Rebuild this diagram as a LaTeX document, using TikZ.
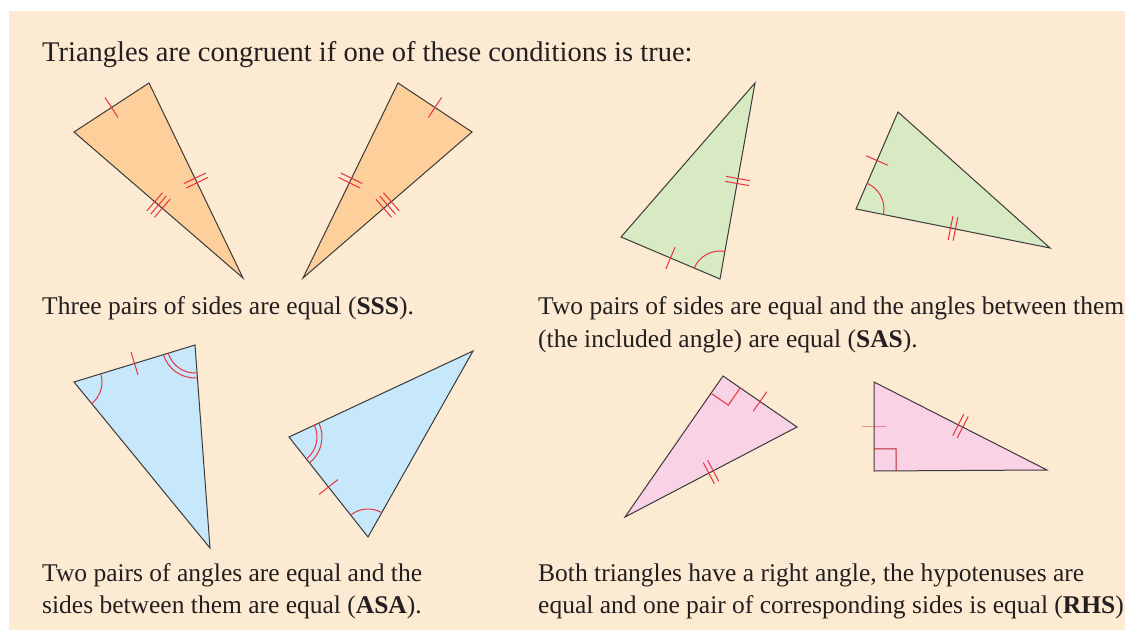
\documentclass[tikz,border=0pt]{standalone}
\usepackage{fontspec}
\setmainfont{Liberation Serif}
\usetikzlibrary{calc,angles,decorations.markings}
\definecolor{pagec}{HTML}{FDEAD3}
\definecolor{orangec}{HTML}{FDD09B}
\definecolor{greenc}{HTML}{D8EAC3}
\definecolor{bluec}{HTML}{C6E8FA}
\definecolor{pinkc}{HTML}{F9D2E5}
\definecolor{markc}{HTML}{E8323C}
\definecolor{edgec}{HTML}{3A3A3A}
\definecolor{textc}{HTML}{231F20}
\tikzset{
  tri/.style={draw=edgec, line width=1pt, line join=miter},
  sss/.style={tri, fill=orangec},
  sas/.style={tri, fill=greenc},
  asa/.style={tri, fill=bluec},
  rhs/.style={tri, fill=pinkc},
  markln/.style={draw=markc, line width=1pt},
  tickone/.style={postaction={decorate, decoration={markings, mark=at position 0.5 with
      {\draw[markln] (0,-12pt) -- (0,12pt);}}}},
  ticktwo/.style={postaction={decorate, decoration={markings, mark=at position 0.5 with
      {\draw[markln] (-2.5pt,-12pt) -- (-2.5pt,12pt) (2.5pt,-12pt) -- (2.5pt,12pt);}}}},
  tickthree/.style={postaction={decorate, decoration={markings, mark=at position 0.5 with
      {\draw[markln] (-5pt,-12pt) -- (-5pt,12pt) (0,-12pt) -- (0,12pt) (5pt,-12pt) -- (5pt,12pt);}}}},
  arcone/.style={markln, angle radius=28pt},
  arcouter/.style={markln, angle radius=33pt},
  captxt/.style={font=\fontsize{25.5}{32}\selectfont, text=textc, anchor=base west, inner sep=0pt},
  headtxt/.style={captxt, font=\fontsize{28.5}{34}\selectfont},
}

\begin{document}
\begin{tikzpicture}[x=1pt, y=-1pt]
  \clip (0,0) rectangle (1125,639);
  \fill[white] (0,0) rectangle (1125,639);
  \fill[pagec] (9,11) rectangle (1125,630);

  \node[headtxt] (title) at (42,62) {Triangles are congruent if one of these conditions is true:};

  % SSS
  \coordinate (oa) at (74,132);  \coordinate (ob) at (149,83);  \coordinate (oc) at (243,278);
  \coordinate (od) at (398,83);  \coordinate (oe) at (472,132); \coordinate (of) at (303,278);
  \draw[sss] (oa) -- (ob) -- (oc) -- cycle;
  \draw[sss] (od) -- (oe) -- (of) -- cycle;
  \path[tickone] (oa) -- (ob);  \path[ticktwo] (ob) -- (oc);  \path[tickthree] (oa) -- (oc);
  \path[tickone] (od) -- (oe);  \path[ticktwo] (od) -- (of);  \path[tickthree] (oe) -- (of);
  \node[captxt] (ssstext) at (42,315) {Three pairs of sides are equal (\textbf{SSS}).};

  % SAS
  \coordinate (ga) at (621,237); \coordinate (gb) at (755,83);  \coordinate (gc) at (720,279);
  \coordinate (gd) at (856,209); \coordinate (ge) at (898,112); \coordinate (gf) at (1050,248);
  \draw[sas] (ga) -- (gb) -- (gc) -- cycle;
  \draw[sas] (gd) -- (ge) -- (gf) -- cycle;
  \path[tickone] (ga) -- (gc);  \path[ticktwo] (gb) -- (gc);
  \path[tickone] (gd) -- (ge);  \path[ticktwo] (gd) -- (gf);
  \pic[arcone] {angle = gb--gc--ga};
  \pic[arcone] {angle = gf--gd--ge};
  \node[captxt] (sastexta) at (538,315) {Two pairs of sides are equal and the angles between them};
  \node[captxt] (sastextb) at (538,347) {(the included angle) are equal (\textbf{SAS}).};

  % ASA
  \coordinate (ba) at (74,382);  \coordinate (bb) at (195,345); \coordinate (bc) at (210,548);
  \coordinate (bd) at (289,437); \coordinate (be) at (473,351); \coordinate (bf) at (368,537);
  \draw[asa] (ba) -- (bb) -- (bc) -- cycle;
  \draw[asa] (bd) -- (be) -- (bf) -- cycle;
  \path[tickone] (ba) -- (bb);  \path[tickone] (bd) -- (bf);
  \pic[arcone] {angle = bc--ba--bb};
  \pic[arcone] {angle = ba--bb--bc};
  \pic[arcouter] {angle = ba--bb--bc};
  \pic[arcone] {angle = bf--bd--be};
  \pic[arcouter] {angle = bf--bd--be};
  \pic[arcone] {angle = be--bf--bd};
  \node[captxt] (asatexta) at (42,581) {Two pairs of angles are equal and the};
  \node[captxt] (asatextb) at (42,613) {sides between them are equal (\textbf{ASA}).};

  % RHS
  \coordinate (pa) at (723,376); \coordinate (pb) at (797,427); \coordinate (pc) at (625,517);
  \coordinate (pd) at (874,382); \coordinate (pe) at (874,471); \coordinate (pf) at (1047,470);
  \draw[rhs] (pa) -- (pb) -- (pc) -- cycle;
  \draw[rhs] (pd) -- (pe) -- (pf) -- cycle;
  \path[tickone] (pa) -- (pb);  \path[ticktwo] (pb) -- (pc);
  \path[tickone, opacity=0.5] (pd) -- (pe);  \path[ticktwo] (pd) -- (pf);
  \draw[markln] ($(pa)!21pt!(pb)$) -- ($(pa)!21pt!(pb) + (pa)!21pt!(pc) - (pa)$) -- ($(pa)!21pt!(pc)$);
  \draw[markln, draw=markc!80!black] ($(pe)!22pt!(pd)$) -- ($(pe)!22pt!(pd) + (pe)!22pt!(pf) - (pe)$) -- ($(pe)!22pt!(pf)$);
  \node[captxt] (rhstexta) at (538,581) {Both triangles have a right angle, the hypotenuses are};
  \node[captxt] (rhstextb) at (538,613) {equal and one pair of corresponding sides is equal (\textbf{RHS})};
\end{tikzpicture}
\end{document}
